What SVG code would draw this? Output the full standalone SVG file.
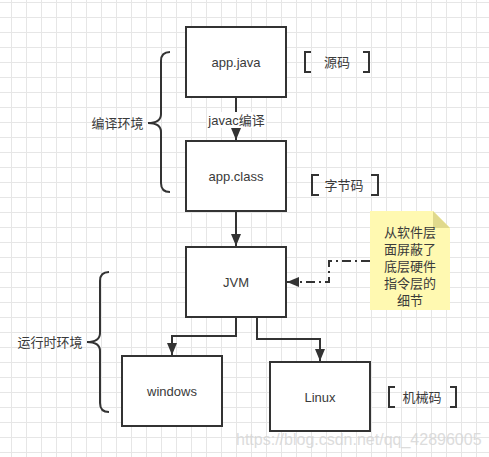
<svg xmlns="http://www.w3.org/2000/svg" width="489" height="457" viewBox="0 0 489 457">
<defs>
<pattern id="grid" x="11" y="2" width="15" height="15" patternUnits="userSpaceOnUse">
<path d="M0 0.5 H15 M0.5 0 V15" stroke="#e6e6e6" stroke-width="1" fill="none"/>
</pattern>
<marker id="arr" viewBox="0 0 12 10" refX="12" refY="5" markerWidth="12" markerHeight="10" markerUnits="userSpaceOnUse" orient="auto">
<path d="M0,0 L12,5 L0,10 z" fill="#333"/>
</marker>
<style>
.box{fill:#fff;stroke:#333;stroke-width:2}
.t{font-family:"Liberation Sans","Noto Sans CJK SC",sans-serif;font-size:13px;fill:#3a3a3a;text-anchor:middle;dominant-baseline:central}
.ln{fill:none;stroke:#333;stroke-width:2}
.br{fill:none;stroke:#333;stroke-width:2}
</style>
</defs>
<rect width="489" height="457" fill="#fff"/>
<rect width="489" height="457" fill="url(#grid)"/>

<g id="connectors">
<line class="ln" x1="236" y1="97" x2="236" y2="140" marker-end="url(#arr)"/>
<rect x="207" y="112" width="59" height="16" fill="#fff"/>
<text class="t" x="236.5" y="120">javac编译</text>
<line class="ln" x1="236" y1="211" x2="236" y2="246" marker-end="url(#arr)"/>
<path class="ln" d="M236,317 V336 H172 V355" marker-end="url(#arr)"/>
<path class="ln" d="M257,317 V339 H320 V361" marker-end="url(#arr)"/>
<path class="ln" d="M370,261 H329 V282 H287" stroke-dasharray="9 4 2 4" marker-end="url(#arr)"/>
</g>

<g id="app-java"><rect class="box" x="186" y="27" width="100" height="70"/><text class="t" x="236" y="62">app.java</text></g>
<g id="app-class"><rect class="box" x="186" y="141" width="100" height="70"/><text class="t" x="236" y="176">app.class</text></g>
<g id="jvm"><rect class="box" x="186" y="247" width="100" height="70"/><text class="t" x="236" y="282">JVM</text></g>
<g id="windows"><rect class="box" x="122" y="356" width="100" height="70"/><text class="t" x="172" y="391">windows</text></g>
<g id="linux"><rect class="box" x="270" y="362" width="100" height="69"/><text class="t" x="320" y="397">Linux</text></g>

<g id="note">
<path d="M370,211 H433 L450,228 V310 H370 z" fill="#fff9b1"/>
<path d="M433,211 L450,228 H433 z" fill="#e0d98c"/>
<text class="t" x="410"><tspan x="410" y="232">从软件层</tspan><tspan x="410" y="249">面屏蔽了</tspan><tspan x="410" y="266">底层硬件</tspan><tspan x="410" y="283">指令层的</tspan><tspan x="410" y="300">细节</tspan></text>
</g>

<g id="compile-env">
<path class="br" d="M170,52 Q161,52 161,61 L161,114 Q161,123 148,123 Q161,123 161,132 L161,183 Q161,192 170,192"/>
<text class="t" x="117.5" y="123">编译环境</text>
</g>
<g id="runtime-env">
<path class="br" d="M109,272 Q100,272 100,281 L100,333 Q100,342 87,342 Q100,342 100,351 L100,403 Q100,412 109,412"/>
<text class="t" x="50" y="342">运行时环境</text>
</g>

<g id="label-source">
<path class="br" d="M311,52 H305 V72 H311 M363,52 H369 V72 H363"/>
<text class="t" x="337" y="62">源码</text>
</g>
<g id="label-bytecode">
<path class="br" d="M319,175 H312 V195 H319 M371,175 H378 V195 H371"/>
<text class="t" x="344" y="185">字节码</text>
</g>
<g id="label-machine">
<path class="br" d="M395,387 H389 V407 H395 M450,387 H456 V407 H450"/>
<text class="t" x="422" y="397">机械码</text>
</g>

<text x="236" y="445" font-family="Liberation Sans, sans-serif" font-size="16" fill="#d4d4d4" opacity="0.8">https://blog.csdn.net/qq_42896005</text>
</svg>
